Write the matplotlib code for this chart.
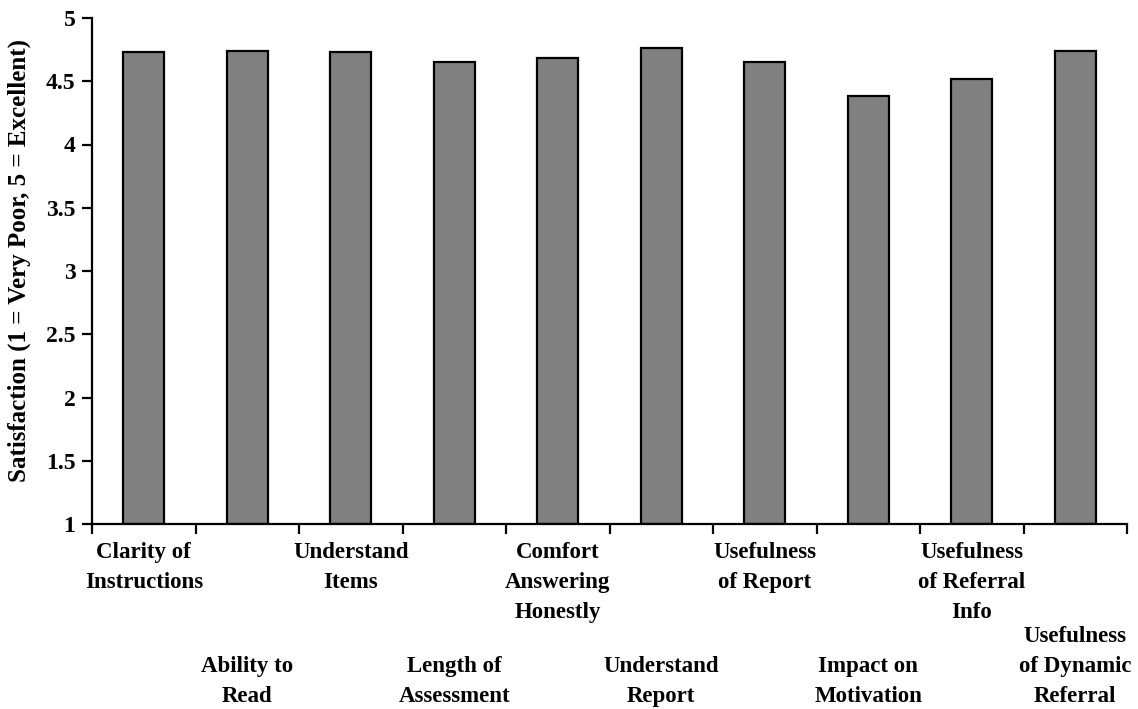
import matplotlib
matplotlib.use("Agg")
import matplotlib.pyplot as plt
import numpy as np

categories = ["Clarity of\nInstructions", "Ability to\nRead", "Understand\nItems",
              "Length of\nAssessment", "Comfort\nAnswering\nHonestly", "Understand\nReport",
              "Usefulness\nof Report", "Impact on\nMotivation", "Usefulness\nof Referral\nInfo",
              "Usefulness\nof Dynamic\nReferral"]
values = [4.73, 4.74, 4.73, 4.65, 4.68, 4.76, 4.65, 4.38, 4.52, 4.74]
yticks = [1, 1.5, 2, 2.5, 3, 3.5, 4, 4.5, 5]
ylabel = "Satisfaction (1 = Very Poor, 5 = Excellent)"

plt.rcParams['font.family'] = ['Liberation Serif', 'DejaVu Serif']
plt.rcParams['font.weight'] = 'bold'

W, H = 1138, 709
fig = plt.figure(figsize=(W / 100, H / 100), dpi=100)
left, right, top, bottom = 92, 1127, 18, 524
ax = fig.add_axes([left / W, 1 - bottom / H, (right - left) / W, (bottom - top) / H])

x = np.arange(len(categories))
ax.bar(x, np.array(values) - 1, bottom=1, width=0.4, color='#808080',
       edgecolor='black', linewidth=1.6)

ax.set_xlim(-0.5, len(categories) - 0.5)
ax.set_ylim(1, 5)
ax.set_yticks(yticks)
ax.set_yticklabels([f"{t:g}" for t in yticks], fontsize=17, fontweight='bold')
ax.set_xticks(np.arange(len(categories) + 1) - 0.5)
ax.set_xticklabels([])
ax.tick_params(axis='both', direction='out', length=7, width=1.6, color='black')
ax.tick_params(axis='y', pad=5)
for s in ['top', 'right']:
    ax.spines[s].set_visible(False)
for s in ['left', 'bottom']:
    ax.spines[s].set_linewidth(1.6)

ax.set_ylabel(ylabel, fontsize=18, fontweight='bold')
ax.yaxis.set_label_coords(-(92 - 31) / (right - left), (bottom - 261) / (bottom - top))

trans = ax.get_xaxis_transform()
for i, lab in enumerate(categories):
    if i % 2 == 0:
        y = -(542 - bottom) / (bottom - top)
        ax.text(i, y, lab, transform=trans, ha='center', va='top', fontsize=16.5,
                fontweight='bold', linespacing=1.55, multialignment='center')
    else:
        y = -(707 - bottom) / (bottom - top)
        ax.text(i, y, lab, transform=trans, ha='center', va='bottom', fontsize=16.5,
                fontweight='bold', linespacing=1.55, multialignment='center')

fig.savefig("out.png", dpi=100)
